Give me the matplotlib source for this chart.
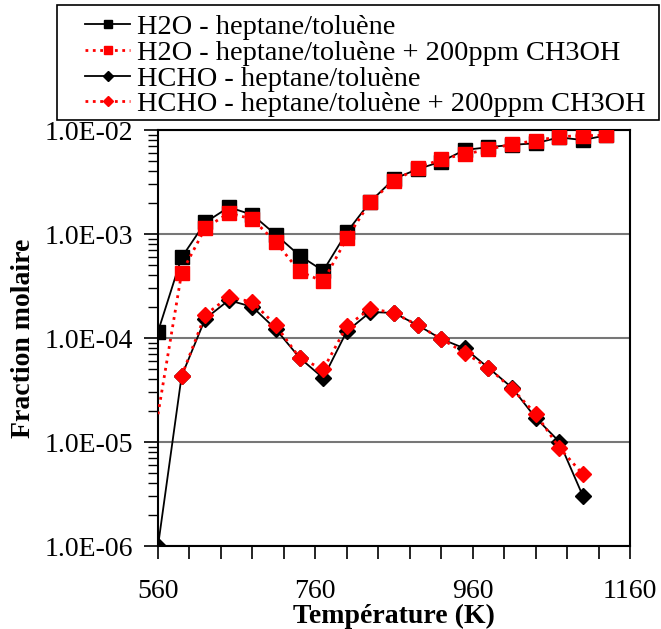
import numpy as np
import matplotlib
matplotlib.use("Agg")
import matplotlib.pyplot as plt
from matplotlib.patches import Rectangle
from matplotlib.ticker import FixedLocator, LogLocator, NullFormatter, MultipleLocator

plt.rcParams['font.family'] = ['Liberation Serif', 'DejaVu Serif']
plt.rcParams['font.size'] = 20

# temperatures (K)
temp = [560, 590, 620, 650, 680, 710, 740, 770, 800, 830, 860, 890, 920,
        950, 980, 1010, 1040, 1070, 1100, 1130]

h2o_ref = [1.15e-4, 5.95e-4, 1.29e-3, 1.81e-3, 1.53e-3, 9.8e-4, 6.2e-4, 4.43e-4,
           1.04e-3, 2.05e-3, 3.39e-3, 4.2e-3, 4.97e-3, 6.43e-3, 6.83e-3, 7.2e-3,
           7.45e-3, 8.5e-3, 8.0e-3, 8.9e-3]
h2o_meoh = [1.85e-5, 4.22e-4, 1.14e-3, 1.59e-3, 1.39e-3, 8.3e-4, 4.37e-4, 3.5e-4,
            9.1e-4, 2.05e-3, 3.24e-3, 4.3e-3, 5.24e-3, 5.85e-3, 6.53e-3, 7.29e-3,
            7.9e-3, 8.63e-3, 8.82e-3, 8.9e-3]

temp_hcho = temp[:19]
temp_hcho_meoh = temp[1:19]
hcho_ref = [1.0e-6, 4.3e-5, 1.53e-4, 2.31e-4, 1.99e-4, 1.21e-4, 6.45e-5, 4.12e-5,
            1.16e-4, 1.78e-4, 1.74e-4, 1.33e-4, 9.8e-5, 7.93e-5, 5.17e-5, 3.33e-5,
            1.71e-5, 1.01e-5, 3.04e-6]
hcho_meoh = [4.3e-5, 1.67e-4, 2.48e-4, 2.22e-4, 1.32e-4, 6.45e-5, 4.99e-5,
             1.30e-4, 1.92e-4, 1.74e-4, 1.33e-4, 9.8e-5, 7.2e-5, 5.17e-5, 3.25e-5,
             1.87e-5, 8.85e-6, 4.9e-6]

labels = ["H2O - heptane/toluène",
          "H2O - heptane/toluène + 200ppm CH3OH",
          "HCHO - heptane/toluène",
          "HCHO - heptane/toluène + 200ppm CH3OH"]

y_ticks = [1e-6, 1e-5, 1e-4, 1e-3, 1e-2]
y_ticklabels = ["1.0E-06", "1.0E-05", "1.0E-04", "1.0E-03", "1.0E-02"]
x_ticks = [560, 760, 960, 1160]

fig = plt.figure(figsize=(6.61, 6.29), dpi=100)
ax = fig.add_axes([158 / 661, 83 / 629, 472 / 661, 416 / 629])

l1, = ax.plot(temp, h2o_ref, color='black', lw=1.3, marker='s', ms=10,
              mec='black', mfc='black', zorder=4)
l2, = ax.plot(temp, h2o_meoh, color='red', lw=2, ls=':', marker='s', ms=10,
              mec='red', mfc='red', markevery=list(range(1, len(temp))), zorder=5)
l3, = ax.plot(temp_hcho, hcho_ref, color='black', lw=1.3, marker='D', ms=8,
              mec='black', mfc='black', zorder=4)
l4, = ax.plot(temp_hcho_meoh, hcho_meoh, color='red', lw=2, ls=':', marker='D', ms=8,
              mec='red', mfc='red', zorder=5)

ax.set_yscale('log')
ax.set_ylim(1e-6, 1e-2)
ax.set_xlim(560, 1160)
ax.yaxis.set_major_locator(FixedLocator(y_ticks))
ax.set_yticklabels(y_ticklabels)
ax.yaxis.set_minor_locator(LogLocator(base=10, subs=np.arange(2, 10)))
ax.yaxis.set_minor_formatter(NullFormatter())
ax.set_xticks(x_ticks)
ax.xaxis.set_minor_locator(MultipleLocator(40))

ax.tick_params(axis='y', which='major', direction='out', length=10, width=1.2, pad=8)
ax.tick_params(axis='y', which='minor', direction='out', length=7, width=1.0)
ax.tick_params(axis='x', which='both', direction='out', length=9, width=1.2, pad=15)

ax.grid(axis='y', which='major', color='#777777', lw=1.5)
for s in ax.spines.values():
    s.set_linewidth(1.5)
    s.set_color('black')

ax.set_xlabel('Température (K)', fontweight='bold', labelpad=0)
ax.set_ylabel('Fraction molaire', fontweight='bold', labelpad=6)

# legend frame drawn separately so the entries can sit inside with a wide margin
fig.patches.append(Rectangle((57 / 661, 509 / 629), 602 / 661, 115 / 629,
                             transform=fig.transFigure, fill=False,
                             edgecolor='black', lw=1.2))
leg = fig.legend([l1, l2, l3, l4], labels, loc='upper left',
                 bbox_to_anchor=(85 / 661, 1 - 14 / 629), frameon=False,
                 fontsize=20.4, handlelength=1.6, handletextpad=0.25,
                 labelspacing=0.0, borderpad=0, borderaxespad=0, markerscale=0.6)

fig.savefig('out.png', dpi=100)
